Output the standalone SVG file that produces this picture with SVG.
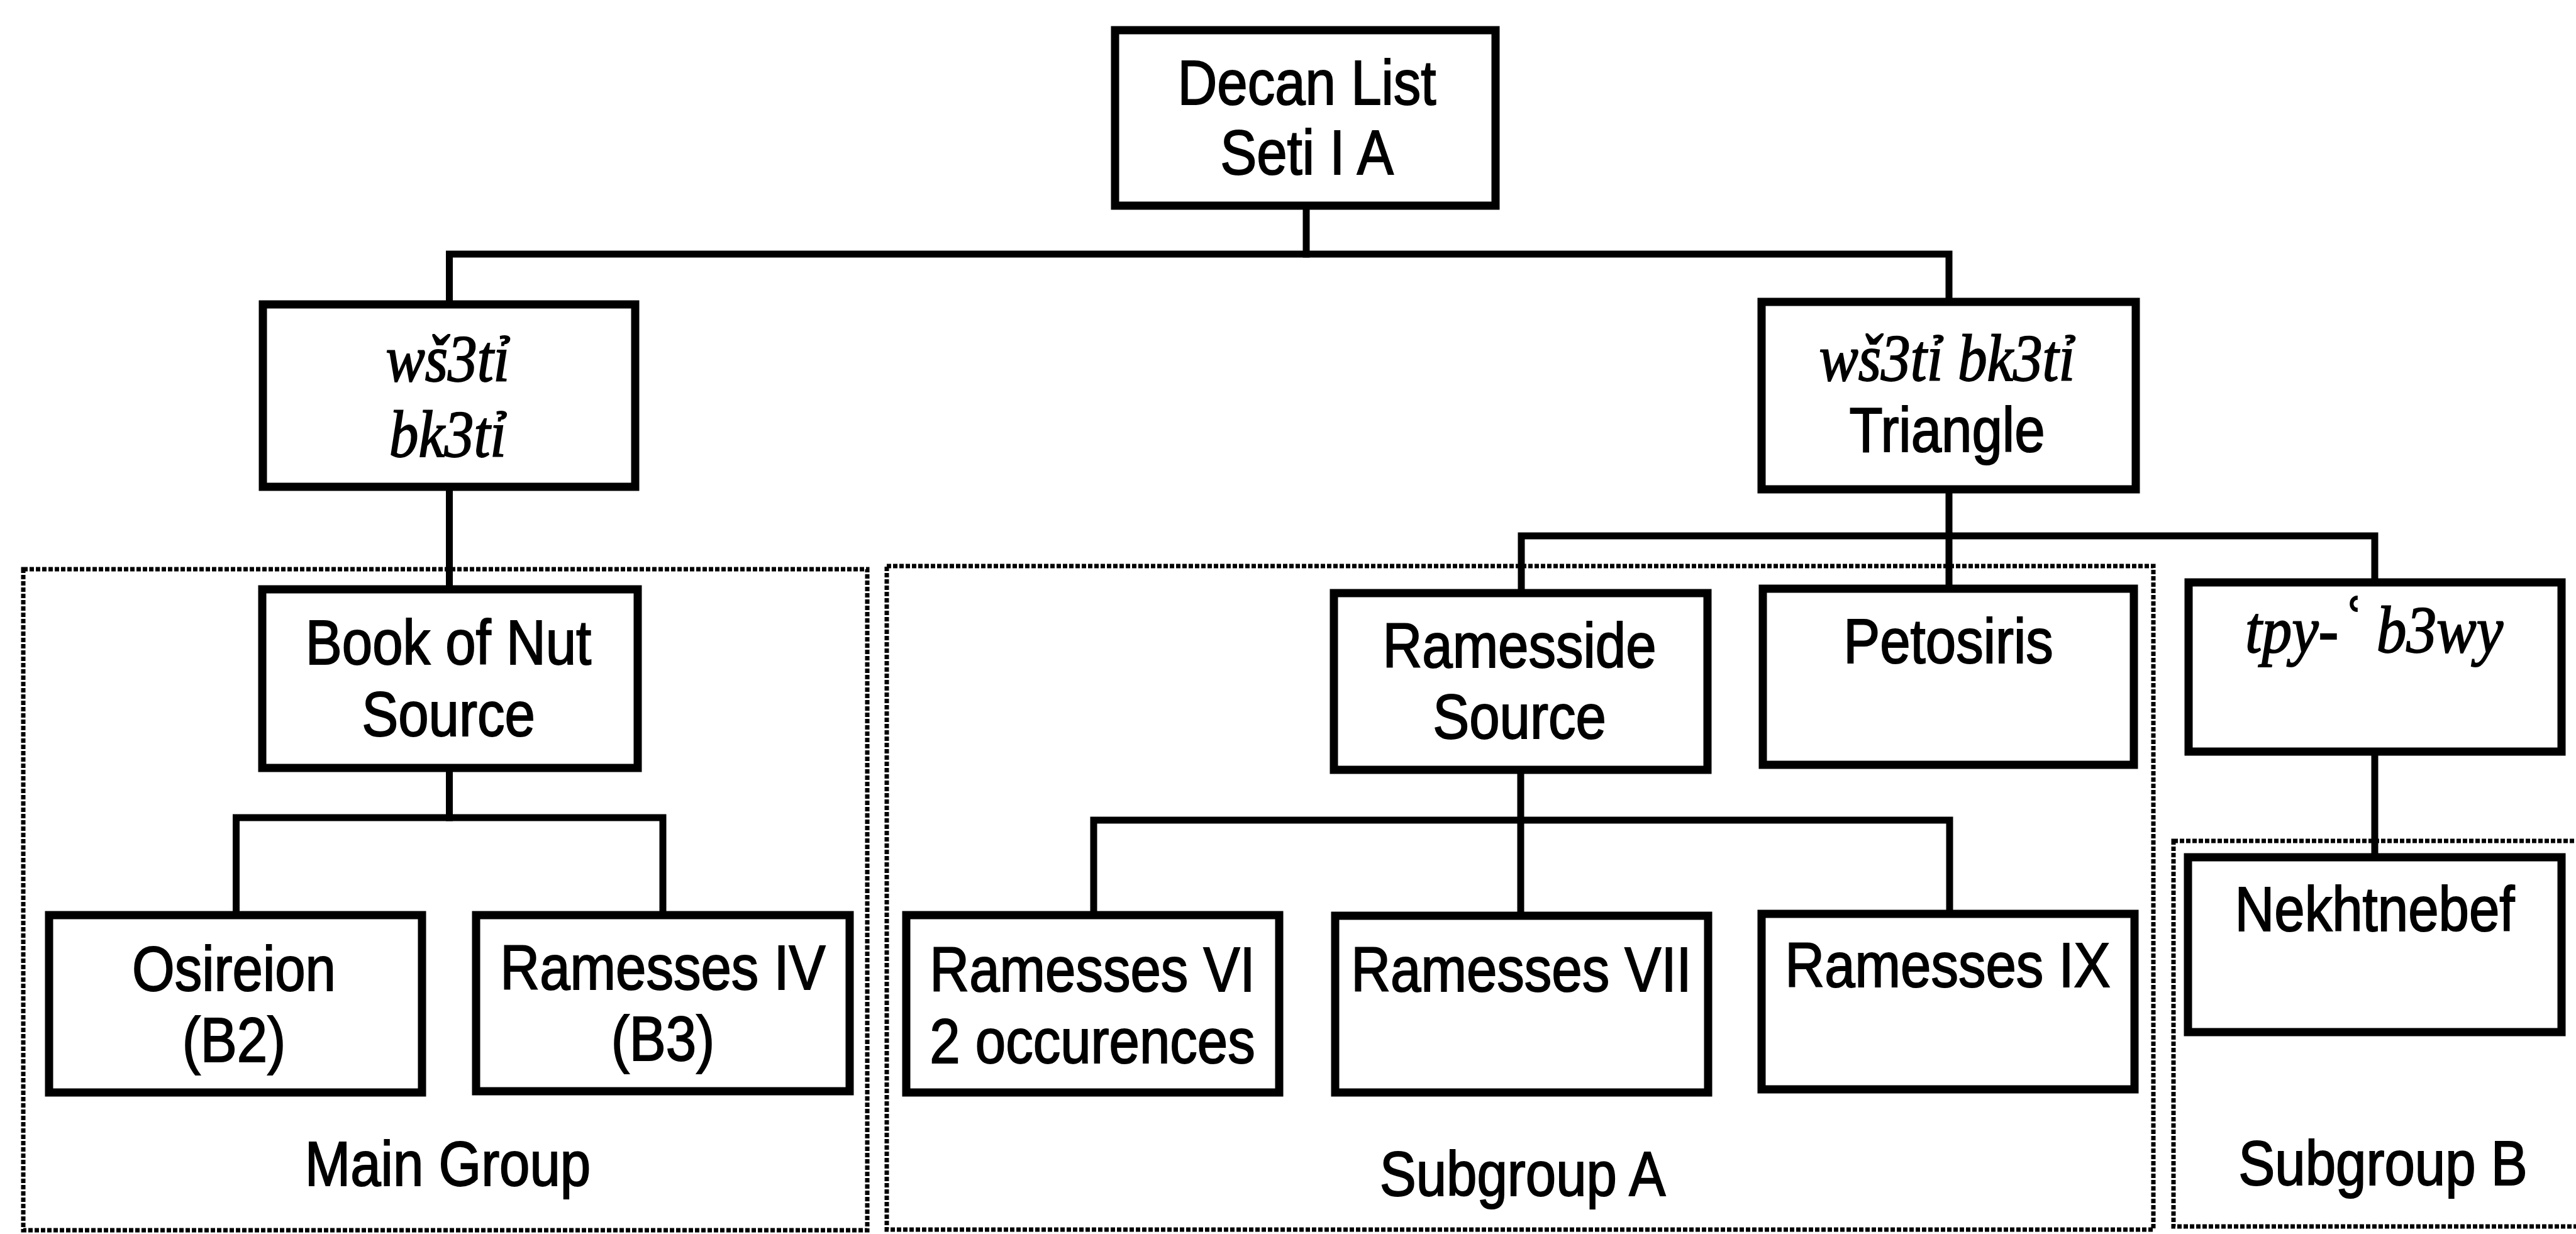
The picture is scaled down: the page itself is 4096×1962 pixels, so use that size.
<svg xmlns="http://www.w3.org/2000/svg" width="4096" height="1962" viewBox="0 0 4096 1962">
  <style>
    .box { fill: #ffffff; stroke: #000000; stroke-width: 13; }
    .grp { fill: none; stroke: #000000; stroke-width: 7; stroke-dasharray: 7 3; }
    .conn { fill: none; stroke: #000000; stroke-width: 11; stroke-linejoin: miter; stroke-linecap: square; }
    .t { font-family: "Liberation Sans", Arial, sans-serif; font-size: 100px; fill: #000000; stroke: #000000; stroke-width: 2; text-anchor: middle; }
    .it { font-family: "Liberation Serif", "DejaVu Serif", serif; font-style: italic; font-size: 106px; fill: #000000; stroke: #000000; stroke-width: 2; text-anchor: middle; }
    .ayin { font-size: 122px; }
  </style>
  <rect width="4096" height="1962" fill="#ffffff"/>

  <g id="group-main">
    <rect class="grp" x="37" y="905" width="1342" height="1051"/>
    <g transform="translate(712 0) scale(0.87 1)"><text class="t" x="0" y="1885">Main Group</text></g>
  </g>
  <g id="group-subA">
    <rect class="grp" x="1410" y="900" width="2014" height="1055"/>
    <g transform="translate(2421 0) scale(0.87 1)"><text class="t" x="0" y="1901">Subgroup A</text></g>
  </g>
  <g id="group-subB">
    <rect class="grp" x="3456" y="1337" width="660" height="613"/>
    <g transform="translate(3789 0) scale(0.87 1)"><text class="t" x="0" y="1884">Subgroup B</text></g>
  </g>

  <g id="connectors">
    <path class="conn" d="M2077 332 V404"/>
    <path class="conn" d="M714.5 484 V404 H3099 V480"/>
    <path class="conn" d="M714.5 774 V937"/>
    <path class="conn" d="M714.5 1221 V1300"/>
    <path class="conn" d="M375.5 1455 V1300 H1054 V1455"/>
    <path class="conn" d="M3099 778 V936"/>
    <path class="conn" d="M2419 943 V852 H3776 V926"/>
    <path class="conn" d="M3776 1195 V1363"/>
    <path class="conn" d="M2418 1224 V1456"/>
    <path class="conn" d="M1739 1455 V1304 H3100 V1453"/>
  </g>

  <g id="node-decan">
    <rect class="box" x="1773" y="48" width="605" height="279"/>
    <g transform="translate(2078 0) scale(0.87 1)">
      <text class="t" x="0" y="166">Decan List</text>
      <text class="t" x="0" y="277">Seti I A</text>
    </g>
  </g>
  <g id="node-wsti-bkti">
    <rect class="box" x="418" y="484" width="592" height="290"/>
    <g transform="translate(712 0) scale(0.88 1)">
      <text class="it" x="0" y="606">wš3tỉ</text>
      <text class="it" x="0" y="726">bk3tỉ</text>
    </g>
  </g>
  <g id="node-triangle">
    <rect class="box" x="2801" y="480" width="595" height="298"/>
    <g transform="translate(3096 0) scale(0.88 1)">
      <text class="it" x="0" y="605">wš3tỉ bk3tỉ</text>
    </g>
    <g transform="translate(3096 0) scale(0.87 1)">
      <text class="t" x="0" y="718">Triangle</text>
    </g>
  </g>
  <g id="node-booknut">
    <rect class="box" x="417" y="937" width="597" height="284"/>
    <g transform="translate(713 0) scale(0.87 1)">
      <text class="t" x="0" y="1056">Book of Nut</text>
      <text class="t" x="0" y="1170">Source</text>
    </g>
  </g>
  <g id="node-osireion">
    <rect class="box" x="78" y="1455" width="593" height="282"/>
    <g transform="translate(372 0) scale(0.87 1)">
      <text class="t" x="0" y="1575">Osireion</text>
      <text class="t" x="0" y="1688">(B2)</text>
    </g>
  </g>
  <g id="node-ramesses4">
    <rect class="box" x="757" y="1455" width="594" height="280"/>
    <g transform="translate(1054 0) scale(0.87 1)">
      <text class="t" x="0" y="1573">Ramesses IV</text>
      <text class="t" x="0" y="1686">(B3)</text>
    </g>
  </g>
  <g id="node-ramesside">
    <rect class="box" x="2121" y="943" width="594" height="281"/>
    <g transform="translate(2416 0) scale(0.87 1)">
      <text class="t" x="0" y="1061">Ramesside</text>
      <text class="t" x="0" y="1174">Source</text>
    </g>
  </g>
  <g id="node-petosiris">
    <rect class="box" x="2803" y="936" width="590" height="280"/>
    <g transform="translate(3098 0) scale(0.87 1)">
      <text class="t" x="0" y="1054">Petosiris</text>
    </g>
  </g>
  <g id="node-tpy">
    <rect class="box" x="3480" y="926" width="593" height="269"/>
    <g transform="translate(3775 0) scale(0.9 1)">
      <text class="it" x="0" y="1037">tpy-<tspan class="ayin">ʿ</tspan> b3wy</text>
    </g>
  </g>
  <g id="node-ramesses6">
    <rect class="box" x="1441" y="1455" width="593" height="282"/>
    <g transform="translate(1737 0) scale(0.87 1)">
      <text class="t" x="0" y="1576">Ramesses VI</text>
      <text class="t" x="0" y="1690">2 occurences</text>
    </g>
  </g>
  <g id="node-ramesses7">
    <rect class="box" x="2123" y="1456" width="593" height="281"/>
    <g transform="translate(2419 0) scale(0.87 1)">
      <text class="t" x="0" y="1576">Ramesses VII</text>
    </g>
  </g>
  <g id="node-ramesses9">
    <rect class="box" x="2801" y="1453" width="593" height="279"/>
    <g transform="translate(3097 0) scale(0.87 1)">
      <text class="t" x="0" y="1569">Ramesses IX</text>
    </g>
  </g>
  <g id="node-nekhtnebef">
    <rect class="box" x="3479" y="1363" width="594" height="278"/>
    <g transform="translate(3776 0) scale(0.87 1)">
      <text class="t" x="0" y="1480">Nekhtnebef</text>
    </g>
  </g>
</svg>
